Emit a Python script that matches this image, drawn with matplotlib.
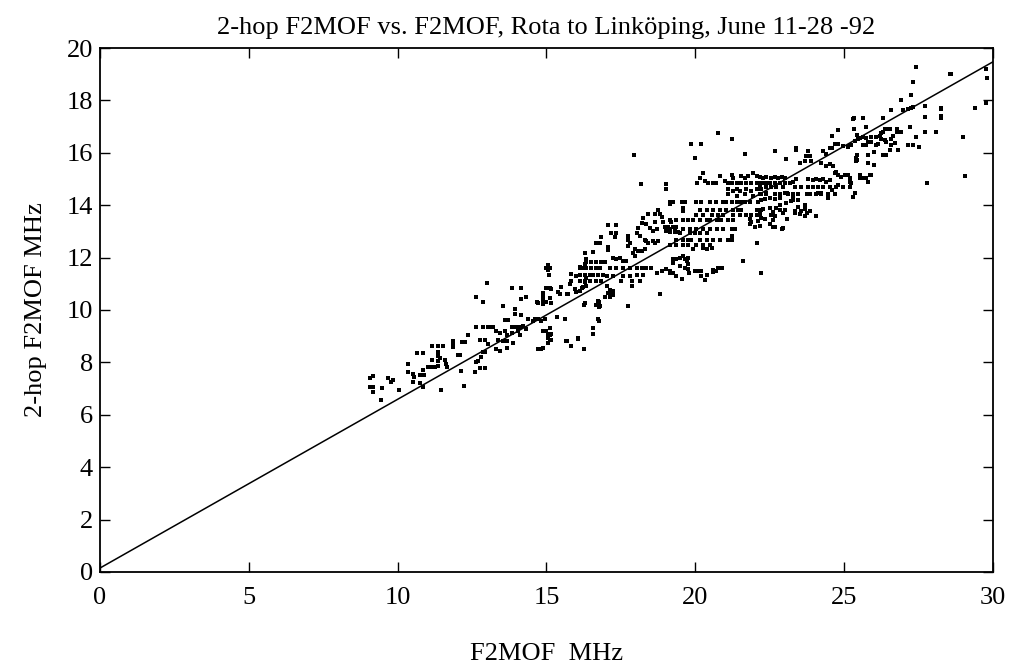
import numpy as np
import matplotlib

matplotlib.use("Agg")
import matplotlib.pyplot as plt

# (F2MOF, 2-hop F2MOF) readings in MHz, grouped by x range
pts_9_13 = [
    (12.65, 10.5), (12.87, 10.3), (12.65, 9.35), (12.87, 9.35), (13.03, 9.35),
    (12.35, 9.04), (11.85, 8.82), (11.85, 8.69), (11.85, 8.58), (12.15, 8.78),
    (12.26, 8.78), (11.14, 8.62), (11.35, 8.62), (11.52, 8.62), (12.09, 8.3),
    (11.35, 8.41), (11.35, 8.23), (11.42, 8.15), (11.35, 8.04), (11.35, 7.88),
    (11.58, 8.1), (11.64, 7.92), (11.65, 7.81), (10.65, 8.34), (10.85, 8.34),
    (10.34, 7.95), (11.14, 8.11), (11.02, 7.82), (11.14, 7.82), (11.25, 7.82),
    (10.86, 7.7), (10.52, 7.56), (10.75, 7.53), (10.8, 7.53), (10.88, 7.53),
    (10.34, 7.63), (10.55, 7.43), (12.63, 8.0), (12.71, 8.06), (12.79, 8.2),
    (12.88, 8.4), (12.93, 8.4), (9.07, 7.39), (9.17, 7.48), (9.67, 7.42),
    (9.84, 7.33), (9.77, 7.25), (9.07, 7.06), (9.17, 7.06), (9.16, 6.87),
    (9.46, 7.02), (10.04, 6.96), (10.52, 7.27), (10.75, 7.21), (10.86, 7.05),
    (9.43, 6.56), (11.47, 6.93), (12.23, 7.1), (12.13, 7.67), (12.6, 7.62),
    (12.76, 7.79), (12.93, 7.79), (12.04, 8.3), (13.05, 8.7),
]

pts_13_16 = [
    (15.06, 11.7), (15.0, 11.62), (15.12, 11.62), (15.06, 11.54), (15.09, 11.33),
    (12.99, 11.03), (12.88, 10.32), (13.86, 10.84), (14.16, 10.84), (15.0, 10.85),
    (15.12, 10.85), (15.17, 10.79), (14.33, 10.5), (14.16, 10.42), (14.89, 10.66),
    (14.89, 10.56), (14.89, 10.43), (14.89, 10.33), (14.89, 10.21), (15.12, 10.47),
    (15.0, 10.3), (15.17, 10.28), (14.67, 10.3), (14.72, 10.28), (13.55, 10.14),
    (13.94, 10.04), (13.94, 9.86), (14.16, 9.82), (13.6, 9.62), (13.72, 9.62),
    (12.88, 9.34), (13.1, 9.34), (13.19, 9.34), (14.39, 9.65), (14.55, 9.59),
    (14.6, 9.65), (14.72, 9.65), (14.83, 9.59), (14.95, 9.65), (13.83, 9.36),
    (13.94, 9.36), (14.05, 9.36), (14.16, 9.36), (13.32, 9.19), (13.44, 9.13),
    (13.6, 9.19), (13.66, 9.06), (13.83, 9.13), (14.05, 9.19), (14.1, 9.06),
    (12.76, 8.86), (12.93, 8.86), (13.38, 8.86), (13.55, 8.8), (13.66, 8.8),
    (13.88, 8.73), (14.89, 9.2), (15.0, 9.2), (15.06, 9.07), (15.17, 9.07),
    (15.06, 8.93), (15.12, 8.85), (15.17, 8.85), (15.06, 8.73), (15.67, 8.83),
    (16.06, 8.89), (14.22, 9.39), (14.33, 9.26), (14.72, 8.5), (14.83, 8.5),
    (14.89, 8.56), (13.32, 8.5), (13.44, 8.44), (13.66, 8.53), (15.62, 9.67),
    (15.79, 10.99), (15.84, 11.12), (15.96, 10.8), (16.01, 10.67), (16.12, 10.73),
    (16.23, 10.86), (16.29, 11.05), (16.34, 11.24), (16.12, 11.63), (16.29, 11.75),
    (16.34, 11.94), (15.4, 10.67), (15.45, 10.6), (15.68, 10.6), (15.73, 10.6),
    (15.84, 11.37), (16.01, 11.31), (15.5, 10.86), (15.12, 9.3), (15.12, 9.05),
    (15.34, 9.75),
]

pts_16_19 = [
    (17.95, 15.9), (18.17, 14.82), (19.03, 14.81), (19.03, 14.62), (19.15, 14.05),
    (18.75, 13.83), (18.64, 13.67), (18.81, 13.68), (18.87, 13.55), (18.42, 13.66),
    (18.25, 13.53), (18.2, 13.33), (18.36, 13.27), (18.64, 13.34), (18.92, 13.34),
    (19.2, 13.34), (18.47, 13.14), (18.59, 13.01), (18.7, 13.08), (18.98, 13.16),
    (19.09, 13.16), (19.26, 13.16), (19.37, 13.16), (19.03, 13.03), (19.15, 12.97),
    (19.31, 12.97), (19.43, 12.97), (18.09, 13.14), (18.03, 12.95), (18.14, 12.82),
    (18.31, 12.69), (18.36, 12.63), (18.42, 12.56), (18.59, 12.63), (18.64, 12.56),
    (18.75, 12.63), (17.18, 12.93), (17.3, 12.8), (17.35, 12.93), (17.07, 13.25),
    (17.35, 13.25), (16.85, 12.8), (16.57, 12.22), (16.29, 12.16), (16.68, 12.55),
    (16.74, 12.55), (16.8, 12.55), (17.07, 12.42), (17.07, 12.29), (17.74, 12.82),
    (17.74, 12.69), (17.8, 12.56), (17.74, 12.43), (17.97, 12.31), (18.09, 12.25),
    (18.2, 12.25), (18.31, 12.31), (17.91, 12.19), (17.97, 12.06), (17.24, 12.0),
    (17.35, 11.93), (17.47, 12.0), (17.58, 11.87), (17.69, 11.87), (16.34, 11.85),
    (16.51, 11.85), (16.68, 11.85), (16.85, 11.85), (16.96, 11.85), (16.12, 11.6),
    (16.23, 11.6), (16.34, 11.6), (16.51, 11.6), (16.68, 11.6), (16.79, 11.6),
    (17.13, 11.61), (17.35, 11.61), (17.58, 11.61), (17.8, 11.61), (18.03, 11.61),
    (18.2, 11.61), (18.36, 11.61), (18.53, 11.61), (16.12, 11.35), (16.29, 11.35),
    (16.46, 11.35), (16.57, 11.35), (16.74, 11.35), (16.9, 11.35), (17.02, 11.28),
    (17.24, 11.28), (17.58, 11.28), (17.8, 11.28), (18.03, 11.35), (18.25, 11.35),
    (18.7, 11.42), (18.87, 11.49), (19.03, 11.56), (19.15, 11.49), (19.26, 11.42),
    (16.12, 11.09), (16.29, 11.09), (16.46, 11.09), (16.68, 11.09), (16.85, 11.09),
    (16.18, 10.84), (16.34, 10.91), (17.02, 10.91), (17.13, 10.78), (17.07, 10.65),
    (17.24, 10.71), (17.52, 11.09), (17.86, 10.9), (17.86, 11.09), (18.14, 11.09),
    (18.81, 10.61), (16.29, 10.26), (16.74, 10.33), (16.8, 10.14), (17.74, 10.14),
    (16.74, 9.64), (16.77, 9.59), (16.57, 9.31), (16.57, 9.09), (16.07, 8.92),
    (15.68, 8.82), (15.84, 8.62), (16.27, 8.51), (16.77, 10.29), (16.77, 10.1),
    (16.68, 10.18), (16.27, 10.18), (16.96, 10.48), (17.13, 10.48), (17.13, 10.61),
    (17.24, 10.57),
]

pts_19_22 = [
    (20.77, 16.74), (19.87, 16.33), (20.18, 16.33), (21.25, 16.51), (19.99, 15.82),
    (21.67, 15.94), (20.27, 15.23), (20.16, 15.04), (20.05, 14.84), (20.32, 14.92),
    (20.43, 14.85), (20.6, 14.85), (20.71, 14.85), (20.99, 14.92), (21.1, 14.85),
    (21.22, 14.85), (20.83, 15.11), (21.22, 15.17), (21.27, 15.05), (21.55, 15.11),
    (21.67, 15.05), (21.78, 15.11), (21.94, 15.24), (22.06, 15.11), (22.28, 15.05),
    (21.39, 14.86), (21.55, 14.86), (21.72, 14.86), (21.89, 14.86), (22.06, 14.86),
    (22.22, 14.86), (22.39, 14.86), (21.1, 14.6), (21.27, 14.53), (21.39, 14.6),
    (21.5, 14.53), (21.72, 14.6), (21.89, 14.53), (22.06, 14.6), (22.22, 14.6),
    (21.1, 14.41), (21.39, 14.34), (21.67, 14.41), (21.94, 14.34), (22.22, 14.41),
    (22.39, 14.47), (19.54, 14.12), (19.65, 14.12), (20.04, 14.12), (20.21, 14.12),
    (20.49, 14.12), (20.71, 14.12), (20.94, 14.12), (21.05, 14.12), (21.22, 14.12),
    (21.39, 14.12), (21.55, 14.12), (21.67, 14.12), (21.84, 14.12), (22.11, 14.12),
    (20.16, 13.83), (20.38, 13.83), (20.6, 13.83), (20.83, 13.83), (21.05, 13.83),
    (21.27, 13.83), (21.44, 13.83), (21.55, 13.83), (22.06, 13.83), (22.22, 13.83),
    (19.59, 13.9), (19.59, 13.77), (19.15, 14.14), (19.26, 14.14), (20.04, 13.61),
    (20.27, 13.61), (20.55, 13.61), (20.77, 13.61), (20.94, 13.61), (21.27, 13.61),
    (21.5, 13.61), (21.72, 13.61), (21.89, 13.61), (22.06, 13.61), (22.17, 13.61),
    (19.15, 13.42), (19.37, 13.42), (19.59, 13.42), (19.76, 13.42), (19.93, 13.42),
    (20.16, 13.42), (20.38, 13.42), (20.49, 13.42), (20.72, 13.42), (20.88, 13.42),
    (21.1, 13.42), (21.27, 13.42), (21.84, 13.46), (21.89, 13.34), (22.11, 13.4),
    (22.17, 13.21), (22.0, 13.15), (21.84, 13.27), (19.15, 13.11), (19.32, 13.11),
    (19.59, 13.11), (19.82, 13.11), (20.04, 13.11), (20.27, 13.11), (20.49, 13.11),
    (20.72, 13.11), (20.94, 13.11), (21.22, 13.11), (21.33, 13.11), (19.48, 12.92),
    (19.82, 12.92), (19.99, 12.92), (20.16, 12.92), (20.38, 12.92), (19.37, 12.66),
    (19.59, 12.66), (19.76, 12.66), (19.87, 12.66), (20.16, 12.66), (20.38, 12.66),
    (20.6, 12.66), (20.83, 12.66), (21.1, 12.66), (21.22, 12.66), (19.15, 12.47),
    (19.37, 12.47), (19.59, 12.47), (19.76, 12.47), (20.04, 12.47), (20.27, 12.47),
    (20.49, 12.47), (21.22, 12.82), (21.16, 12.69), (22.06, 12.57), (19.59, 12.06),
    (19.65, 11.94), (19.48, 12.0), (19.26, 11.94), (19.37, 11.94), (19.76, 12.0),
    (19.71, 11.88), (19.93, 12.31), (20.27, 12.37), (20.38, 12.31), (20.55, 12.37),
    (19.26, 11.8), (19.48, 11.68), (19.76, 11.74), (19.65, 11.6), (19.76, 11.55),
    (20.0, 11.5), (20.1, 11.5), (20.2, 11.5), (19.8, 11.4), (20.2, 11.3),
    (20.4, 11.35), (20.6, 11.45), (20.9, 11.62), (20.7, 11.5), (21.61, 11.88),
    (22.22, 11.42), (19.15, 11.4), (19.37, 11.28), (19.54, 11.2), (20.6, 11.53),
    (20.77, 11.6), (20.33, 11.14),
]

pts_22_25 = [
    (25.31, 17.29), (24.8, 16.87), (24.58, 16.64), (22.67, 16.07), (23.4, 16.19),
    (23.4, 16.09), (23.79, 16.06), (23.04, 15.78), (24.3, 16.07), (24.41, 15.97),
    (24.52, 16.2), (24.58, 16.2), (24.69, 16.32), (24.8, 16.32), (24.97, 16.26),
    (25.14, 16.22), (25.25, 16.3), (25.36, 16.45), (25.47, 16.51), (23.73, 15.87),
    (23.85, 15.87), (23.9, 15.68), (23.68, 15.68), (23.51, 15.62), (24.24, 15.62),
    (24.41, 15.49), (24.52, 15.56), (24.63, 15.49), (24.69, 15.21), (24.8, 15.15),
    (24.74, 15.28), (24.91, 15.09), (25.02, 15.15), (25.19, 15.03), (25.25, 14.84),
    (25.41, 15.82), (25.41, 15.69), (25.53, 15.05), (22.17, 15.08), (22.28, 15.02),
    (22.39, 15.08), (22.56, 15.02), (22.67, 15.08), (22.78, 15.02), (22.9, 15.08),
    (23.0, 15.03), (23.3, 14.9), (23.4, 15.0), (23.79, 15.0), (23.96, 14.95),
    (24.07, 15.0), (24.19, 14.95), (24.3, 15.0), (24.41, 14.9), (24.52, 14.95),
    (22.17, 14.85), (22.34, 14.85), (22.5, 14.85), (22.67, 14.85), (22.84, 14.85),
    (23.0, 14.85), (23.18, 14.85), (22.17, 14.69), (22.39, 14.69), (22.56, 14.69),
    (22.73, 14.69), (22.95, 14.69), (23.35, 14.69), (23.57, 14.69), (23.79, 14.69),
    (23.96, 14.69), (24.13, 14.69), (24.3, 14.69), (24.52, 14.69), (24.74, 14.69),
    (24.97, 14.69), (25.19, 14.69), (25.14, 15.15), (22.17, 14.42), (22.39, 14.42),
    (22.67, 14.42), (22.84, 14.42), (23.12, 14.42), (23.29, 14.42), (23.46, 14.42),
    (23.74, 14.42), (23.85, 14.42), (24.07, 14.42), (24.24, 14.42), (24.46, 14.42),
    (24.69, 14.42), (22.2, 14.18), (22.34, 14.22), (22.5, 14.27), (22.67, 14.22),
    (22.84, 14.27), (23.0, 14.45), (23.1, 14.45), (23.29, 14.33), (22.28, 13.85),
    (22.5, 13.9), (22.73, 13.9), (22.84, 14.0), (23.04, 14.08), (23.23, 14.15),
    (23.29, 14.2), (22.62, 13.75), (22.84, 13.8), (23.0, 13.8), (22.56, 13.63),
    (22.67, 13.57), (22.95, 13.7), (23.46, 14.2), (23.68, 14.0), (23.46, 13.95),
    (23.68, 13.84), (23.85, 13.77), (23.57, 13.77), (23.35, 13.71), (23.51, 13.65),
    (23.68, 13.58), (24.13, 14.45), (24.24, 14.45), (24.46, 14.26), (24.58, 14.58),
    (24.8, 14.77), (25.36, 14.45), (22.2, 13.52), (22.17, 13.78), (22.34, 13.49),
    (22.5, 13.3), (22.62, 13.43), (22.67, 13.17), (22.62, 13.17), (22.9, 13.11),
    (22.95, 13.14), (23.07, 13.49), (23.35, 13.78), (23.57, 13.78), (23.74, 13.72),
    (24.07, 13.59),
]

pts_25_30 = [
    (27.43, 19.29), (28.55, 18.99), (28.61, 18.99), (29.78, 19.21), (29.81, 18.85),
    (29.78, 17.9), (29.39, 17.7), (27.32, 18.71), (27.24, 18.2), (26.93, 18.03),
    (26.59, 17.64), (26.98, 17.63), (27.15, 17.67), (27.26, 17.72), (27.32, 17.76),
    (27.71, 17.8), (28.27, 17.72), (28.27, 17.66), (28.27, 17.4), (28.27, 17.34),
    (27.71, 17.35), (26.31, 17.33), (27.21, 16.99), (27.71, 16.79), (28.08, 16.79),
    (27.43, 16.59), (27.32, 16.29), (27.15, 16.3), (27.51, 16.24), (29.0, 16.59),
    (29.06, 15.12), (27.79, 14.85), (25.33, 17.31), (25.64, 17.32), (25.33, 16.92),
    (25.73, 17.0), (25.42, 16.68), (25.53, 16.57), (25.64, 16.6), (25.75, 16.58),
    (25.92, 16.61), (26.09, 16.59), (26.2, 16.65), (26.25, 16.77), (26.31, 16.78),
    (26.37, 16.91), (26.44, 16.91), (26.54, 16.92), (26.79, 16.89), (26.79, 16.79),
    (26.93, 16.8), (25.19, 16.31), (25.64, 16.29), (25.75, 16.29), (25.81, 16.42),
    (25.92, 16.42), (26.09, 16.3), (26.14, 16.33), (26.25, 16.52), (26.37, 16.47),
    (26.42, 16.43), (26.59, 16.53), (26.65, 16.66), (26.7, 16.39), (26.59, 16.31),
    (26.82, 16.12), (26.54, 16.11), (25.42, 15.91), (25.42, 15.73), (25.81, 15.91),
    (26.01, 16.02), (26.01, 15.53), (25.81, 15.6), (26.31, 15.91), (26.42, 15.92),
    (25.19, 14.98), (25.19, 14.87), (25.53, 15.14), (25.64, 15.02), (25.73, 15.02),
    (25.81, 14.9), (25.86, 15.14), (25.92, 15.15), (25.31, 14.33),
]

# fitted line end points
fit_x = [0, 30]
fit_y = [0.15, 19.47]

plt.rcParams["font.family"] = ["Liberation Serif", "DejaVu Serif"]

fig = plt.figure(figsize=(10.10, 6.64), dpi=100)
ax = fig.add_axes([0.099, 0.1386, 0.884, 0.7891])

allpts = np.array(pts_9_13 + pts_13_16 + pts_16_19 + pts_19_22 + pts_22_25 + pts_25_30)
ax.scatter(allpts[:, 0], allpts[:, 1], s=5, marker="s", color="black", linewidths=0)
ax.plot(fit_x, fit_y, color="black", linewidth=1.1)

ax.set_xlim(0, 30)
ax.set_ylim(0, 20)
ax.set_xticks(range(0, 31, 5))
ax.set_yticks(range(0, 21, 2))
ax.tick_params(direction="in", length=7, width=1, top=True, right=True,
               labelsize=19)
ax.tick_params(axis="x", pad=11)
ax.tick_params(axis="y", pad=5)
for s in ax.spines.values():
    s.set_linewidth(1.3)

ax.set_title("2-hop F2MOF vs. F2MOF, Rota to Linköping, June 11-28 -92",
             fontsize=19, pad=10)
ax.set_xlabel("F2MOF  MHz", fontsize=19, labelpad=24)
ax.set_ylabel("2-hop F2MOF MHz", fontsize=19, labelpad=14)

fig.savefig("out.png", dpi=100)
